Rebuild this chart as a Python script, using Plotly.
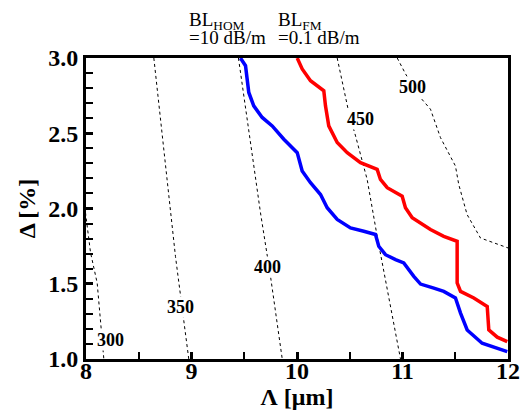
import plotly.graph_objects as go

# Blue curve: BL_HOM = 10 dB/m
blue_x = [9.464, 9.512, 9.543, 9.590, 9.670, 9.765, 9.875, 10.002, 10.049, 10.128, 10.223, 10.286,
          10.381, 10.507, 10.633, 10.744, 10.775, 10.839, 10.934, 11.012, 11.107, 11.171, 11.297,
          11.391, 11.502, 11.550, 11.613, 11.755, 11.993]
blue_y = [3.0, 2.949, 2.771, 2.682, 2.605, 2.549, 2.46, 2.371, 2.249, 2.171, 2.093, 2.005,
          1.927, 1.871, 1.849, 1.827, 1.749, 1.693, 1.66, 1.638, 1.549, 1.498, 1.471,
          1.449, 1.405, 1.305, 1.193, 1.105, 1.049]

# Red curve: BL_FM = 0.1 dB/m
red_x = [10.002, 10.049, 10.128, 10.254, 10.270, 10.301, 10.381, 10.476, 10.602, 10.760, 10.791,
         10.855, 10.997, 11.028, 11.092, 11.265, 11.391, 11.518, 11.518, 11.518, 11.550, 11.676,
         11.803, 11.818, 11.898, 11.993]
red_y = [3.0, 2.927, 2.849, 2.782, 2.682, 2.549, 2.438, 2.371, 2.305, 2.26, 2.193,
         2.138, 2.082, 2.005, 1.938, 1.86, 1.815, 1.782, 1.66, 1.505, 1.449, 1.405,
         1.349, 1.193, 1.145, 1.115]

# Dashed contour lines
c300_x = [7.995, 8.043, 8.106, 8.169]
c300_y = [1.973, 1.707, 1.505, 1.0]
c350_x = [8.643, 8.848, 8.974]
c350_y = [3.0, 1.682, 1.0]
c400_x = [9.445, 9.654, 9.749, 9.860]
c400_y = [3.0, 1.971, 1.549, 1.0]
c450_x = [10.381, 10.491, 10.555, 10.665, 10.760, 10.981]
c450_y = [3.0, 2.638, 2.482, 2.193, 1.815, 1.0]
c500_x = [10.95, 11.03, 11.155, 11.265, 11.36, 11.502, 11.533, 11.612, 11.739, 12.0]
c500_y = [3.0, 2.893, 2.749, 2.66, 2.471, 2.282, 2.16, 1.96, 1.804, 1.738]

contour_levels = ["300", "350", "400", "450", "500"]
label_x = [8.232, 8.896, 9.72, 10.60, 11.095]
label_y = [1.127, 1.347, 1.613, 2.593, 2.807]

# Header texts
head_names = ["BL<sub>HOM</sub>", "BL<sub>FM</sub>"]
head_values = ["=10 dB/m", "=0.1 dB/m"]

fig = go.Figure()
for cx, cy in [(c300_x, c300_y), (c350_x, c350_y), (c400_x, c400_y), (c450_x, c450_y), (c500_x, c500_y)]:
    fig.add_trace(go.Scatter(x=cx, y=cy, mode="lines",
                             line=dict(color="black", width=1, dash="3px,3px"),
                             showlegend=False, hoverinfo="skip"))
fig.add_trace(go.Scatter(x=blue_x, y=blue_y, mode="lines",
                         line=dict(color="#0000ff", width=3.5), showlegend=False))
fig.add_trace(go.Scatter(x=red_x, y=red_y, mode="lines",
                         line=dict(color="#ff0000", width=3.5), showlegend=False))

serif = "Liberation Serif"
for t, lx, ly in zip(contour_levels, label_x, label_y):
    fig.add_annotation(x=lx, y=ly, text="<b>" + t + "</b>", showarrow=False,
                       font=dict(family=serif, size=18, color="black"),
                       bgcolor="white", borderpad=0)

head_px = [187, 276]
for name, val, px in zip(head_names, head_values, head_px):
    fig.add_annotation(xref="paper", yref="paper", x=(px - 86) / 422, y=1.0, yshift=23,
                       xanchor="left", yanchor="bottom", align="left", showarrow=False,
                       text=name, font=dict(family=serif, size=19, color="black"))
    fig.add_annotation(xref="paper", yref="paper", x=(px - 86) / 422, y=1.0, yshift=8,
                       xanchor="left", yanchor="bottom", align="left", showarrow=False,
                       text=val, font=dict(family=serif, size=19, color="black"))

axis_common = dict(showgrid=False, zeroline=False, showline=True, linecolor="black",
                   linewidth=3, mirror=True, ticks="inside", ticklen=7, tickwidth=2.5,
                   tickcolor="black", automargin=False,
                   tickfont=dict(family=serif, size=24, color="black", weight="bold"))

fig.update_layout(
    width=522, height=417,
    margin=dict(l=86, r=14, t=58, b=58),
    paper_bgcolor="white", plot_bgcolor="white",
    font=dict(family=serif),
    xaxis=dict(range=[8, 12], dtick=1, tick0=8, ticklabelstandoff=-12,
               minor=dict(dtick=0.5, ticks="inside", ticklen=7, tickwidth=2, tickcolor="black"),
               title=dict(text="<b>Λ [μm]</b>", font=dict(family=serif, size=24, color="black"),
                          standoff=0),
               **axis_common),
    yaxis=dict(range=[1, 3], dtick=0.5, tick0=1, tickformat=".1f",
               minor=dict(dtick=0.1, ticks="inside", ticklen=7, tickwidth=2, tickcolor="black"),
               title=dict(text="<b>Δ [%]</b>", font=dict(family=serif, size=24, color="black"),
                          standoff=6),
               **axis_common),
)

fig.write_html("out.html", config={"displayModeBar": False},
               post_script="document.body.style.margin='0';document.body.style.padding='0';")
